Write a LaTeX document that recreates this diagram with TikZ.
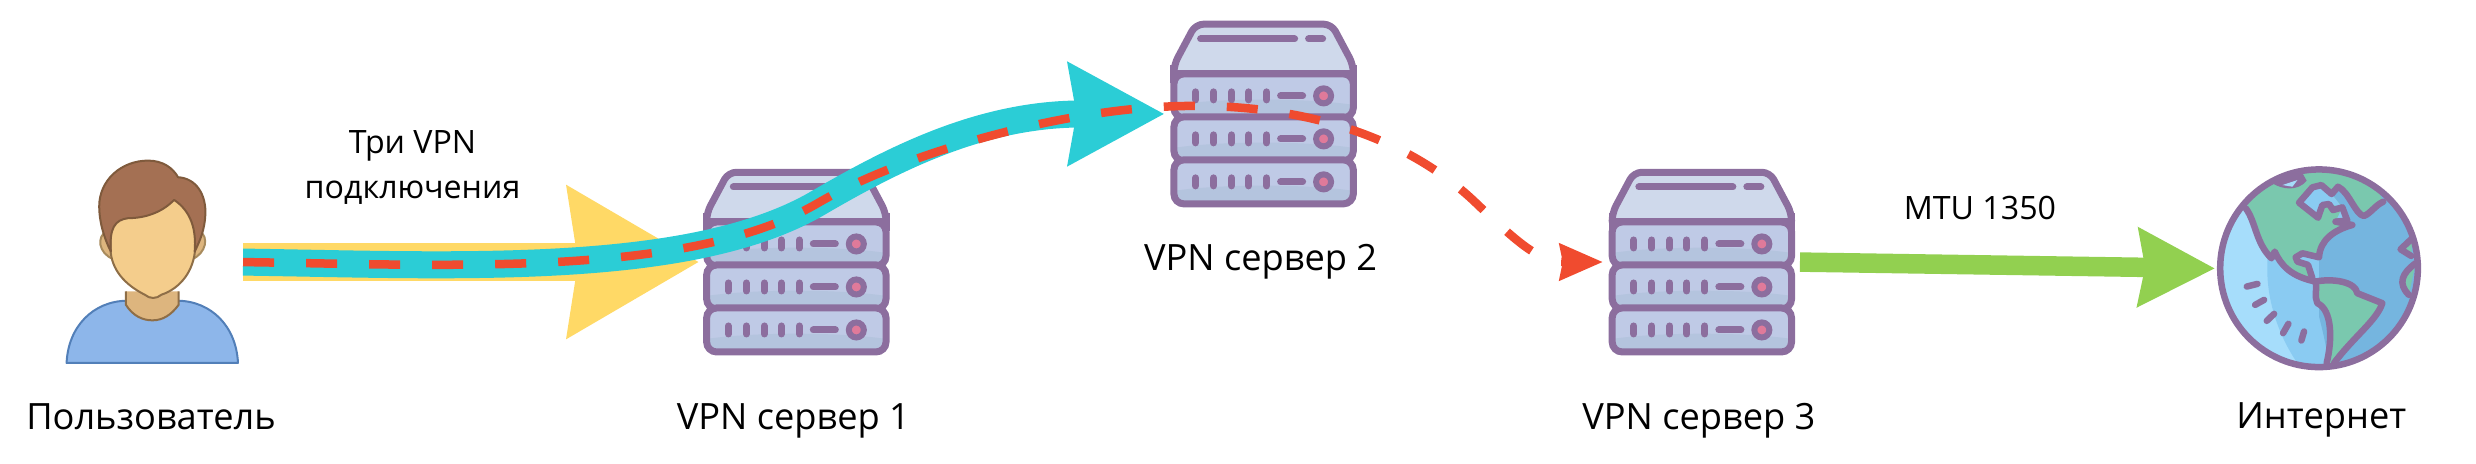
\documentclass[tikz,border=0pt]{standalone}
\usepackage{xcolor}
\usepackage{fontspec}
\setmainfont{Open Sans}
\usepackage{tikz}
\usetikzlibrary{arrows.meta, positioning}

\definecolor{iconline}{HTML}{8C6E9E}
\definecolor{tunnelyellow}{HTML}{FFD966}
\definecolor{tunnelteal}{HTML}{2BCDD6}
\definecolor{tunnelred}{HTML}{F04B2F}
\definecolor{tunnelgreen}{HTML}{92D050}
\definecolor{skinline}{HTML}{8E6E47}
\definecolor{hairline}{HTML}{7F5A3C}
\definecolor{lidblue}{HTML}{CFD9EB}
\definecolor{rowblue}{HTML}{BFCAE6}
\definecolor{rowshade}{HTML}{B4C4DE}
\definecolor{ledpink}{HTML}{E07A9A}
\definecolor{shirtblue}{HTML}{8DB6EA}
\definecolor{shirtline}{HTML}{527FB8}
\definecolor{necktan}{HTML}{DDB57E}
\definecolor{earline}{HTML}{A88B5D}
\definecolor{faceyellow}{HTML}{F4CD8C}
\definecolor{hairbrown}{HTML}{A47053}
\definecolor{oceanlight}{HTML}{A6DDFB}
\definecolor{oceanmid}{HTML}{8ACBF2}
\definecolor{oceandeep}{HTML}{75B5DF}
\definecolor{landgreen}{HTML}{7AC8AE}

\tikzstyle{icon} = [inner sep=0pt, outer sep=0pt]
\tikzstyle{caption} = [
    inner sep=0pt, outer sep=0pt, text height=.3cm, text depth=0pt,
    font=\fontsize{10.3}{12}\selectfont
]
\tikzstyle{linklabel} = [
    inner sep=0pt, outer sep=0pt, align=center, text=black,
    font=\fontsize{9.15}{12.8}\selectfont
]
\tikzstyle{yellowarrow} = [
    -{Stealth[length=1.30cm, width=1.46cm, inset=.09cm]},
    line width=.38cm, draw=tunnelyellow, color=tunnelyellow,
    shorten <=.05cm, shorten >=.04cm
]
\tikzstyle{tealarrow} = [
    -{Stealth[length=.95cm, width=.99cm, inset=.07cm]},
    line width=.27cm, draw=tunnelteal, color=tunnelteal,
    shorten <=.05cm, shorten >=.06cm
]
\tikzstyle{redarrow} = [
    -{Stealth[length=.43cm, width=.36cm, inset=.03cm]},
    line width=.085cm, draw=tunnelred, color=tunnelred,
    dash pattern=on .31cm off .32cm,
    shorten <=.05cm, shorten >=.06cm
]
\tikzstyle{greenarrow} = [
    -{Stealth[length=.76cm, width=.76cm, inset=.06cm]},
    line width=.195cm, draw=tunnelgreen, color=tunnelgreen,
    shorten <=.05cm, shorten >=.05cm
]

\tikzset{
    pics/vpnserver/.style={code={
        % Lid
        \draw[fill=lidblue, draw=iconline, line width=.07cm, line join=round, rounded corners=.08cm]
            (25,3.3) -- (161,3.3) -- (182.7,44) -- (182.7,60) -- (3.3,60) -- (3.3,44) -- cycle;
        % Drive rows
        \foreach \rowy in {0,43,86} {
            \begin{scope}
                \clip[rounded corners=.1cm] (3.3,\rowy+53) rectangle (182.7,\rowy+97);
                \fill[rowblue] (3.3,\rowy+53) rectangle (182.7,\rowy+97);
                \fill[rowshade] (3.3,\rowy+84) .. controls (50,\rowy+77) and (136,\rowy+77)
                    .. (182.7,\rowy+84) -- (182.7,\rowy+97) -- (3.3,\rowy+97) -- cycle;
            \end{scope}
            \draw[iconline, line width=.07cm, rounded corners=.1cm]
                (3.3,\rowy+53) rectangle (182.7,\rowy+97);
            \foreach \slotx in {25,43,61,78,96}
                \draw[iconline, line width=.07cm, line cap=round]
                    (\slotx,\rowy+71) -- (\slotx,\rowy+79);
            \draw[iconline, line width=.07cm, line cap=round] (110,\rowy+75) -- (132,\rowy+75);
            \draw[iconline, line width=.06cm, fill=ledpink] (153,\rowy+75) circle[radius=.075cm];
        }
        % Square the corners under the lid
        \draw[iconline, line width=.07cm] (3.3,44) -- (3.3,62) (182.7,44) -- (182.7,62);
        \draw[iconline, line width=.07cm] (3.3,53) -- (182.7,53);
        % Lid slots
        \draw[iconline, line width=.07cm, line cap=round] (30,18) -- (124,18) (138,18) -- (152,18);
    }},
    pics/userfigure/.style={code={
        \begin{scope}[x=.00333cm, y=-.00333cm, shift={(-.17cm,.1cm)}]
            % Shirt
            \draw[draw=shirtline, fill=shirtblue, line width=.02cm, line join=round]
                (50,640) .. controls (55,530) and (130,455) .. (230,453) -- (385,453)
                .. controls (485,455) and (560,530) .. (565,640) -- cycle;
            % Neck
            \draw[draw=skinline, fill=necktan, line width=.02cm]
                (228,425) -- (228,465) .. controls (250,500) and (280,512) .. (308,512)
                .. controls (340,512) and (365,495) .. (387,465) -- (387,425);
            % Ears
            \draw[draw=earline, fill=necktan, line width=.02cm]
                (170,245) .. controls (140,260) and (145,310) .. (190,328) -- cycle;
            \draw[draw=earline, fill=necktan, line width=.02cm]
                (450,245) .. controls (478,260) and (470,310) .. (428,328) -- cycle;
            % Face
            \draw[draw=skinline, fill=faceyellow, line width=.02cm]
                (182,140) -- (182,300) .. controls (185,360) and (225,405) .. (285,435)
                .. controls (300,448) and (320,448) .. (335,435)
                .. controls (395,415) and (432,360) .. (436,300) -- (436,140) -- cycle;
            % Hair
            \draw[draw=hairline, fill=hairbrown, line width=.02cm, line join=round]
                (183,305) .. controls (160,260) and (148,210) .. (148,170)
                .. controls (148,90) and (215,32) .. (295,32)
                .. controls (340,32) and (370,55) .. (385,82)
                .. controls (440,85) and (470,135) .. (467,195)
                .. controls (465,240) and (450,275) .. (435,305)
                .. controls (440,240) and (425,185) .. (373,150)
                .. controls (340,185) and (290,205) .. (235,205)
                .. controls (195,210) and (178,235) .. (183,305) -- cycle;
        \end{scope}
    }},
    pics/earthglobe/.style={code={
        \begin{scope}[x=.00333cm, y=-.00333cm, shift={(-.1933cm,.1933cm)}]
            \begin{scope}
                \clip (355,355) circle[radius=297];
                % Ocean bands
                \fill[oceanlight] (50,50) rectangle (660,660);
                \fill[oceanmid] (200,340) .. controls (195,450) and (235,560) .. (290,640)
                    -- (660,660) -- (660,50) -- (200,50) -- cycle;
                \fill[oceandeep] (355,120) -- (355,500) .. controls (370,560) and (380,600) .. (385,660)
                    -- (660,660) -- (660,50) -- (355,50) -- cycle;
                % Continents
                \fill[landgreen] (135,175) .. controls (165,215) and (165,280) .. (215,325)
                    -- (220,305) .. controls (240,345) and (270,380) .. (345,395)
                    -- (330,350) -- (290,335) -- (300,312) -- (355,320)
                    .. controls (360,270) and (400,240) .. (455,225)
                    -- (405,215) -- (430,175) -- (390,130) -- (410,110)
                    .. controls (445,125) and (465,195) .. (490,198)
                    .. controls (510,190) and (525,165) .. (548,155)
                    -- (500,50) -- (200,50) -- cycle;
                \fill[oceanmid] (295,155) -- (360,105) -- (393,132) -- (425,172)
                    -- (440,212) -- (405,215) -- (425,172) -- (385,162) -- (365,165) -- (352,203) -- cycle;
                \fill[landgreen] (345,395) .. controls (395,385) and (465,395) .. (470,430)
                    -- (545,460) .. controls (530,510) and (460,560) .. (400,640) -- (378,640)
                    .. controls (395,570) and (395,480) .. (350,460)
                    .. controls (340,440) and (350,415) .. (345,395) -- cycle;
                % Ice cap
                \fill[iconline] (215,100) .. controls (245,118) and (290,125) .. (318,92)
                    -- (300,60) -- (220,70) -- cycle;
                \fill[oceanlight] (245,105) -- (290,90) -- (275,110) -- cycle;
            \end{scope}
            % Coast lines
            \begin{scope}[iconline, line width=.065cm, line cap=round, line join=round]
                \draw (135,175) .. controls (165,215) and (165,280) .. (212,325)
                    -- (222,305) .. controls (240,345) and (270,380) .. (345,395)
                    .. controls (395,385) and (465,395) .. (470,430) -- (545,460)
                    .. controls (530,510) and (460,560) .. (400,640);
                \draw (345,395) .. controls (350,415) and (340,440) .. (350,460)
                    .. controls (395,480) and (395,570) .. (378,640);
                \draw (335,385) -- (322,345) -- (290,335) -- (285,322) -- (305,310) -- (355,322)
                    .. controls (358,270) and (400,240) .. (455,225) -- (405,215);
                \draw (405,215) -- (440,212) -- (425,172) -- (397,180) -- (385,162) -- (365,165)
                    -- (352,203) -- (295,158) -- (335,112) -- (362,105) -- (393,132) -- (412,110)
                    .. controls (445,125) and (465,195) .. (490,198)
                    .. controls (510,190) and (525,165) .. (548,155);
                \draw[fill=landgreen] (635,265) -- (600,298) -- (632,318);
                \draw[fill=landgreen] (645,340) .. controls (605,370) and (590,400) .. (625,435);
                % Waves
                \draw (138,410) -- (170,402);
                \draw (163,465) -- (190,450);
                \draw (198,513) -- (220,492);
                \draw (247,550) -- (263,522);
                \draw (302,572) -- (310,545);
            \end{scope}
            \draw[iconline, line width=.065cm] (355,355) circle[radius=297];
        \end{scope}
    }}
}

\begin{document}
\begin{tikzpicture}[x=.01cm, y=-.01cm]
    \useasboundingbox (0,0) rectangle (2476,463);

    % User
    \node[icon, minimum width=1.71cm, minimum height=2.04cm] (user) at (152.5,262) {};

    % Servers
    \node[icon, minimum size=1.86cm, right=4.65cm of user] (srv1) {};
    \node[icon, minimum size=1.86cm, right=2.81cm of srv1, yshift=1.48cm] (srv2) {};
    \node[icon, minimum size=1.86cm, right=7.19cm of srv1] (srv3) {};

    % Internet
    \node[icon, minimum size=1.98cm, right=4.25cm of srv3, yshift=-.065cm] (globe) {};

    \pic at (user.north west) {userfigure};
    \pic at (srv1.north west) {vpnserver};
    \pic at (srv2.north west) {vpnserver};
    \pic at (srv3.north west) {vpnserver};
    \pic at (globe.north west) {earthglobe};

    % Captions
    \node[caption, below=.35cm of user, xshift=-.015cm] (usercap) {Пользователь};
    \node[caption, below=.44cm of srv1, xshift=-.03cm] (srv1cap) {VPN сервер 1};
    \node[caption, below=.33cm of srv2, xshift=-.03cm] (srv2cap) {VPN сервер 2};
    \node[caption, below=.44cm of srv3, xshift=-.03cm] (srv3cap) {VPN сервер 3};
    \node[caption, below=.31cm of globe, xshift=.02cm] (globecap) {Интернет};

    % Bends of the tunnel
    \coordinate (rise) at (818,203);
    \coordinate (crest) at (1184,106);
    \coordinate (drop) at (1476,203);

    % Arrows
    \draw[yellowarrow] (user.east) -- node[linklabel, pos=.375, above=.58cm] (vpnlabel)
        {Три VPN\\подключения} (srv1.west);
    \draw[tealarrow] (user.east) .. controls (450,265) and (690,278) .. (rise)
        .. controls (900,155) and (985,114) .. (srv2.west);
    \draw[redarrow] (user.east) .. controls (450,265) and (690,278) .. (rise)
        .. controls (900,155) and (1060,108) .. (crest)
        .. controls (1290,104) and (1400,130) .. (drop)
        .. controls (1520,245) and (1540,262) .. (srv3.west);
    \draw[greenarrow] (srv3.east) -- node[linklabel, pos=.435, above=.45cm] (mtulabel)
        {MTU 1350} (globe.west);
\end{tikzpicture}
\end{document}
